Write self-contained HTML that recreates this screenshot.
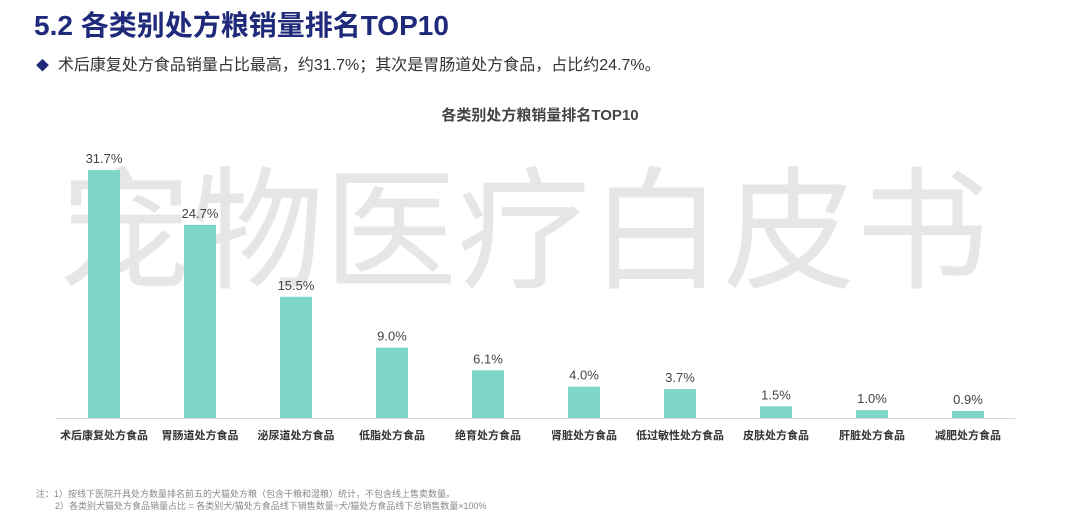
<!DOCTYPE html>
<html><head><meta charset="utf-8"><style>
body{margin:0;width:1080px;height:530px;background:#fff;overflow:hidden;font-family:"Liberation Sans","Noto Sans CJK SC",sans-serif;position:relative}
.t{position:absolute;white-space:nowrap}
</style></head><body>
<div class="t" style="left:34px;top:4px;font-size:28px;font-weight:bold;color:#1f2a7a">5.2 各类别处方粮销量排名TOP10</div>
<div class="t" style="left:36px;top:51px;font-size:16px;color:#333"><span style="color:#1f2a7a;font-size:13px">◆</span>&nbsp; 术后康复处方食品销量占比最高，约31.7%；其次是胃肠道处方食品，占比约24.7%。</div>
<div class="t" style="left:58px;top:125px;font-size:133px;color:#e6e6e6;letter-spacing:0px;font-family:'Noto Sans CJK SC',sans-serif">宠物医疗白皮书</div>
<svg id="chart" width="1080" height="530" style="position:absolute;left:0;top:0">
<text x="540" y="120" text-anchor="middle" font-size="15" font-weight="bold" fill="#444">各类别处方粮销量排名TOP10</text>
<line x1="55" y1="418.5" x2="1015" y2="418.5" stroke="#d9d9d9"/>
<g id="bars"></g>
</svg>
<div class="t" style="left:36px;top:487px;font-size:9px;color:#888">注：1）按线下医院开具处方数量排名前五的犬猫处方粮（包含干粮和湿粮）统计，不包含线上售卖数量。</div>
<div class="t" style="left:55px;top:499px;font-size:9px;color:#888">2）各类别犬猫处方食品销量占比 = 各类别犬/猫处方食品线下销售数量÷犬/猫处方食品线下总销售数量×100%</div>
<script>
const categories=["术后康复处方食品","胃肠道处方食品","泌尿道处方食品","低脂处方食品","绝育处方食品","肾脏处方食品","低过敏性处方食品","皮肤处方食品","肝脏处方食品","减肥处方食品"];
const values=[31.7,24.7,15.5,9.0,6.1,4.0,3.7,1.5,1.0,0.9];
const valueLabels=["31.7%","24.7%","15.5%","9.0%","6.1%","4.0%","3.7%","1.5%","1.0%","0.9%"];
const ns="http://www.w3.org/2000/svg";
const g=document.getElementById('bars');
const baseY=418, pxPer=7.82, x0=104, step=96, bw=32;
function xs(i){return x0+i*step;}
function ys(v){return baseY-v*pxPer;}
categories.forEach((c,i)=>{
  const cx=xs(i),top=ys(values[i]);
  const r=document.createElementNS(ns,'rect');
  
  
  r.setAttribute('x',cx-bw/2);r.setAttribute('y',top);r.setAttribute('width',bw);r.setAttribute('height',baseY-top);r.setAttribute('fill','#7dd6c8');
  g.appendChild(r);
  const t=document.createElementNS(ns,'text');
  
  
  t.setAttribute('x',cx);t.setAttribute('y',top-7);t.setAttribute('text-anchor','middle');t.setAttribute('font-size','13');t.setAttribute('fill','#444');
  t.textContent=valueLabels[i];g.appendChild(t);
  const l=document.createElementNS(ns,'text');
  
  
  l.setAttribute('x',cx);l.setAttribute('y',439);l.setAttribute('text-anchor','middle');l.setAttribute('font-size','11');l.setAttribute('font-weight','bold');l.setAttribute('fill','#333');
  l.textContent=c;g.appendChild(l);
});
</script>
</body></html>
